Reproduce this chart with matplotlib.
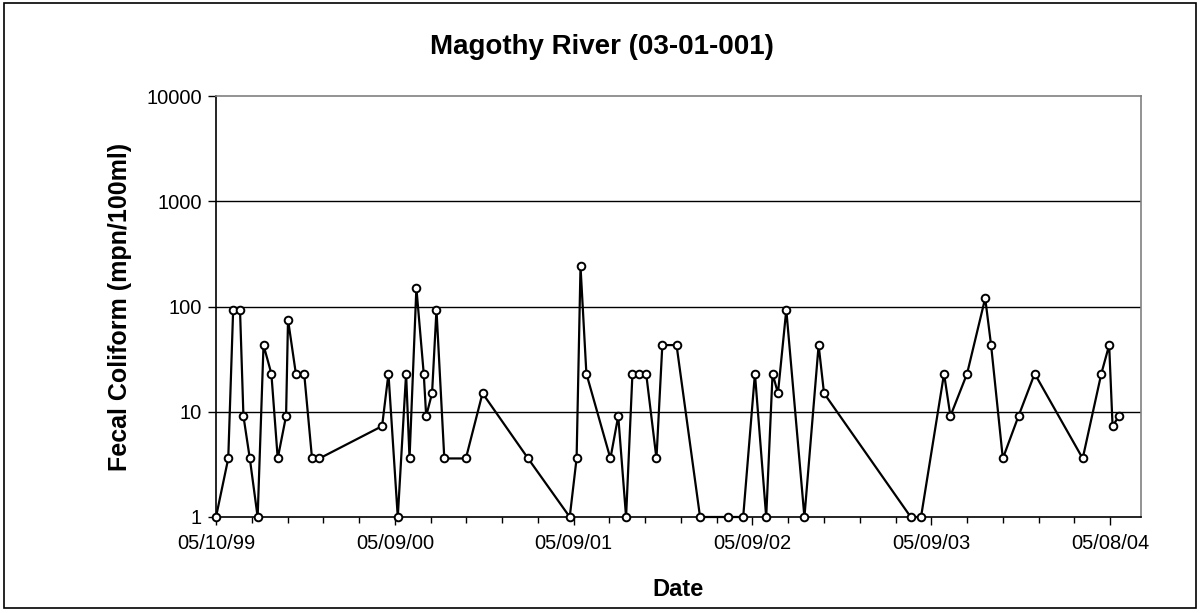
import matplotlib
matplotlib.use("Agg")
import matplotlib.pyplot as plt
import matplotlib.dates as mdates
from matplotlib.patches import Rectangle
from matplotlib.ticker import FixedLocator, NullFormatter
import numpy as np
import datetime as dt

plt.rcParams['font.family'] = ['Liberation Sans', 'DejaVu Sans']

# sample dates and fecal coliform counts (mpn/100ml)
dates = ["1999-05-10", "1999-06-04", "1999-06-14", "1999-06-28", "1999-07-05",
         "1999-07-18", "1999-08-03", "1999-08-15", "1999-08-31", "1999-09-13",
         "1999-09-30", "1999-10-04", "1999-10-20", "1999-11-06", "1999-11-22",
         "1999-12-07", "2000-04-13", "2000-04-26", "2000-05-15", "2000-06-01",
         "2000-06-08", "2000-06-22", "2000-07-07", "2000-07-12", "2000-07-24",
         "2000-08-02", "2000-08-18", "2000-10-01", "2000-11-04", "2001-02-05",
         "2001-05-01", "2001-05-15", "2001-05-23", "2001-06-04", "2001-07-23",
         "2001-08-08", "2001-08-24", "2001-09-06", "2001-09-19", "2001-10-04",
         "2001-10-25", "2001-11-06", "2001-12-05", "2002-01-22", "2002-03-21",
         "2002-04-20", "2002-05-14", "2002-06-06", "2002-06-19", "2002-06-30",
         "2002-07-17", "2002-08-23", "2002-09-21", "2002-10-02", "2003-03-28",
         "2003-04-18", "2003-06-04", "2003-06-17", "2003-07-21", "2003-08-27",
         "2003-09-08", "2003-10-02", "2003-11-03", "2003-12-06", "2004-03-13",
         "2004-04-20", "2004-05-06", "2004-05-13", "2004-05-26"]
fecal = [1, 3.6, 93, 93, 9.1,
         3.6, 1, 43, 23, 3.6,
         9.1, 75, 23, 23, 3.6,
         3.6, 7.3, 23, 1, 23,
         3.6, 150, 23, 9.1, 15,
         93, 3.6, 3.6, 15, 3.6,
         1, 3.6, 240, 23, 3.6,
         9.1, 1, 23, 23, 23,
         3.6, 43, 43, 1, 1,
         1, 23, 1, 23, 15,
         93, 1, 43, 15, 1,
         1, 23, 9.1, 23, 120,
         43, 3.6, 9.1, 23, 3.6,
         23, 43, 7.3, 9.1]

y_ticks = [1, 10, 100, 1000, 10000]
y_labels = ["1", "10", "100", "1000", "10000"]

x = mdates.datestr2num(dates)
start = mdates.date2num(dt.datetime(1999, 5, 10))
end = start + 1888

fig = plt.figure(figsize=(12.04, 6.13), dpi=100)
ax = fig.add_axes([216 / 1204, 1 - 517 / 613, (1141 - 216) / 1204, (517 - 96) / 613])

ax.plot(x, fecal, color='black', lw=1.6, marker='o', ms=5.5, mfc='white',
        mec='black', mew=1.4, zorder=3, clip_on=False)

ax.set_yscale('log')
ax.set_ylim(1, 10000)
ax.set_xlim(start, end)
ax.yaxis.set_major_locator(FixedLocator(y_ticks))
ax.set_yticklabels(y_labels)
ax.yaxis.set_minor_locator(FixedLocator([]))
for v in y_ticks[1:-1]:
    ax.axhline(v, color='black', lw=1, zorder=1)

ax.xaxis.set_major_locator(FixedLocator(np.arange(start, end, 365)))
ax.xaxis.set_minor_locator(FixedLocator(np.arange(start, end, 73)))
ax.xaxis.set_major_formatter(mdates.DateFormatter('%m/%d/%y'))
ax.xaxis.set_minor_formatter(NullFormatter())

ax.tick_params(axis='both', which='major', labelsize=14.5, direction='out',
               length=6, width=1, color='black', pad=4)
ax.tick_params(axis='x', which='minor', direction='out', length=4, width=1)
ax.tick_params(axis='x', which='major', pad=6)

ax.spines['left'].set_color('black')
ax.spines['bottom'].set_color('black')
ax.spines['top'].set_color('#808080')
ax.spines['right'].set_color('#808080')
for s in ax.spines.values():
    s.set_linewidth(1.2)

fig.text(0.5, 1 - 47 / 613, 'Magothy River (03-01-001)', ha='center', va='center',
         fontsize=20, fontweight='bold')
fig.text((216 + 1141) / 2 / 1204, 1 - 590 / 613, 'Date', ha='center', va='center',
         fontsize=17, fontweight='bold')
fig.text(120 / 1204, 1 - 307 / 613, 'Fecal Coliform (mpn/100ml)', ha='center',
         va='center', rotation=90, fontsize=18, fontweight='bold')

fig.patches.append(Rectangle((4 / 1204, 5 / 613), 1192 / 1204, 605 / 613,
                             transform=fig.transFigure, fill=False,
                             edgecolor='black', lw=1.2))

fig.savefig('out.png', dpi=100)
